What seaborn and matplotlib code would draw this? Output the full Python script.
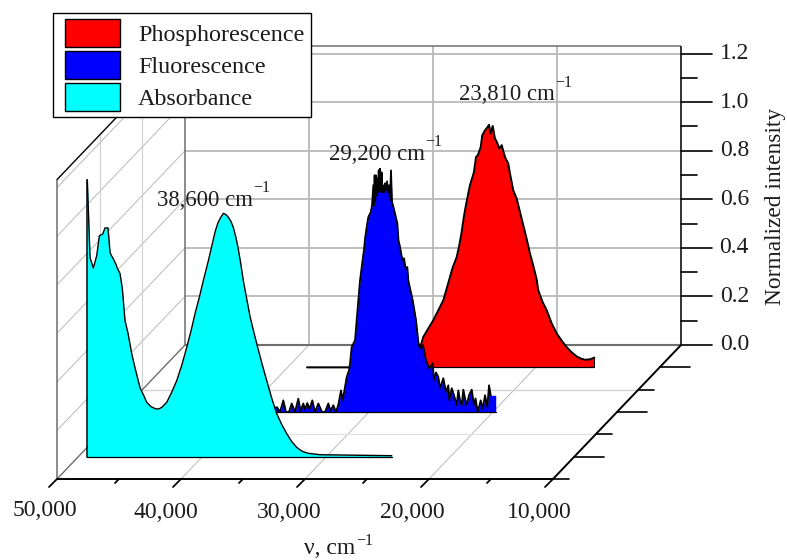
import matplotlib
matplotlib.use("Agg")
import matplotlib.pyplot as plt
import matplotlib.patches as mpatches
from matplotlib.legend_handler import HandlerPatch
import numpy as np
import seaborn as sns

# spectra (cm-1, normalized intensity)
ABS_WN = [49275, 49161, 49056, 48790, 48516, 48306, 48032, 47847, 47605, 47443, 47300, 47177, 46950, 46855, 46637,
          46451, 46234, 46000, 45693, 45400, 45024, 44800, 44484, 44137, 43900, 43677, 43450, 43250, 42871, 42500,
          42064, 41650, 41258, 40900, 40588, 40250, 39919, 39500, 39136, 38950, 38733, 38520, 38306, 38120, 37927,
          37700, 37499, 37300, 37120, 36900, 36693, 36420, 36152, 35880, 35612, 35200, 34806, 34400, 33999, 33600,
          33193, 32800, 32386, 31950, 31475, 30507, 24724]
ABS_I = [1.141, 0.972, 0.82, 0.777, 0.828, 0.91, 0.917, 0.942, 0.942, 0.841, 0.825, 0.815, 0.79, 0.776, 0.754,
         0.692, 0.56, 0.51, 0.424, 0.36, 0.284, 0.26, 0.224, 0.206, 0.2, 0.196, 0.198, 0.204, 0.224, 0.262,
         0.313, 0.378, 0.45, 0.52, 0.589, 0.655, 0.725, 0.81, 0.89, 0.93, 0.964, 0.985, 1.002, 0.998, 0.988,
         0.97, 0.944, 0.905, 0.861, 0.795, 0.725, 0.65, 0.577, 0.52, 0.465, 0.385, 0.313, 0.24, 0.177, 0.133,
         0.095, 0.063, 0.038, 0.022, 0.014, 0.008, 0.004]

FLUO_WN = [38400, 37419, 37177, 36911, 36693, 36451, 36233, 35967, 35701, 35524, 35297, 35161, 34975, 34798,
           34572, 34354, 34088, 33790, 33547, 33281, 33104, 32878, 32660, 32475, 32257, 32120, 31797, 31612,
           31531, 31394, 31128, 30927, 30725, 30378, 30321, 30185, 30055, 29862, 29757, 29650, 29602, 29546,
           29498, 29443, 29386, 29330, 29274, 29216, 29162, 29113, 29048, 28984, 28920, 28870, 28790, 28709,
           28629, 28548, 28468, 28387, 28306, 28226, 28145, 28063, 27902, 27717, 27620, 27499, 27378, 27281,
           27176, 27055, 26910, 26830, 26474, 26208, 26023, 25886, 25644, 25402, 25136, 24861, 24757, 24595,
           24410, 24273, 24007, 23789, 23603, 23523, 23329, 23144, 22926, 22797, 22660, 22523, 22393, 22256,
           22120, 21934, 21716, 21531, 21410, 21232, 20990, 20829, 20643, 20457, 20321, 20184, 19780]
FLUO_I = [0.0, 0.02, 0.0, 0.048, 0.0, 0.0, 0.035, 0.0, 0.055, 0.005, 0.035, 0.01, 0.037, 0.012,
          0.048, 0.0, 0.035, 0.0, 0.0, 0.035, 0.005, 0.028, 0.0, 0.03, 0.089, 0.048, 0.144, 0.172,
          0.199, 0.268, 0.295, 0.419, 0.542, 0.68, 0.714, 0.762, 0.803, 0.823, 0.851, 0.934, 0.851, 0.975,
          0.872, 0.975, 0.892, 0.963, 0.913, 0.996, 0.905, 1.002, 0.913, 0.987, 0.905, 0.934, 0.905, 0.942,
          0.913, 0.95, 0.905, 0.934, 0.872, 0.995, 0.865, 0.851, 0.817, 0.777, 0.707, 0.68, 0.645, 0.625,
          0.633, 0.592, 0.597, 0.542, 0.46, 0.378, 0.288, 0.262, 0.275, 0.213, 0.179, 0.201, 0.131, 0.163,
          0.144, 0.098, 0.139, 0.082, 0.11, 0.048, 0.098, 0.069, 0.028, 0.089, 0.048, 0.028, 0.092, 0.056,
          0.028, 0.069, 0.092, 0.028, 0.056, 0.0, 0.048, 0.014, 0.069, 0.021, 0.11, 0.069, 0.069]

PHOS_WN = [38443, 31346, 30136, 29491, 29063, 28660, 28257, 27850, 27450, 27200, 26966, 26700, 26370, 26170,
           25966, 25850, 25700, 25500, 25297, 24974, 24813, 24652, 24434, 24305, 24087, 23902, 23765, 23627,
           23466, 23281, 23144, 22934, 22740, 22474, 22208, 22071, 21805, 21531, 21264, 20998, 20730, 20458,
           20200, 19918, 19789, 19450, 19111, 18700, 18305, 17900, 17498, 17100, 16692, 16350, 16022, 15619, 15272]
PHOS_I = [0.0, 0.0, 0.01, 0.05, 0.125, 0.16, 0.194, 0.235, 0.276, 0.32, 0.362, 0.41, 0.454, 0.5,
          0.558, 0.6, 0.647, 0.7, 0.75, 0.805, 0.866, 0.875, 0.907, 0.956, 0.976, 0.988, 0.999, 0.963,
          0.994, 0.942, 0.93, 0.901, 0.915, 0.866, 0.839, 0.798, 0.729, 0.695, 0.64, 0.585, 0.53, 0.469,
          0.42, 0.362, 0.317, 0.27, 0.235, 0.18, 0.14, 0.11, 0.083, 0.062, 0.045, 0.036, 0.031, 0.033, 0.04]

WN_MAJOR = [50000, 40000, 30000, 20000, 10000]
WN_MINOR = [45000, 35000, 25000, 15000]
WN_LABELS = ["50,000", "40,000", "30,000", "20,000", "10,000"]
Z_MAJOR = [0.0, 0.2, 0.4, 0.6, 0.8, 1.0, 1.2]
Z_MINOR = [0.1, 0.3, 0.5, 0.7, 0.9, 1.1]
DEPTH_MAJOR = [1, 3, 5]
DEPTH_MINOR = [0, 2, 4]
DEPTH_GRID = [2, 4]
Z_TOP = 1.233
DEPTH_MAX = 6

ABS_DEPTH, FLUO_DEPTH, PHOS_DEPTH = 1, 3, 5
PEAK_LABELS = [("38,600 cm", 253, 200), ("29,200 cm", 425, 154), ("23,810 cm", 555, 95)]

GRID = "#b9b9b9"
EDGE = "#6e6e6e"
INK = "#1c1c1c"
FS = 17


def proj(wn, depth, z):
    # oblique projection onto figure pixels
    wn, z = np.asarray(wn, dtype=float), np.asarray(z, dtype=float)
    px = 57 + (50000 - wn) * 0.0124 + depth * 128 / 6
    py = 479 - depth * 134 / 6 - z * 242.8
    return px, py


def seg(ax, wn, depth, z, color=GRID, lw=1.0, zorder=1):
    px, py = proj(wn, depth, z)
    ax.plot(px, py, color=color, lw=lw, zorder=zorder, solid_capstyle="butt")


def depth_seg(ax, wn, z, color=GRID, lw=0.7, zorder=1):
    p0 = proj(wn, 0, z)
    p1 = proj(wn, DEPTH_MAX, z)
    ax.plot([p0[0], p1[0]], [p0[1], p1[1]], color=color, lw=lw, zorder=zorder)


def draw_walls(ax):
    # back wall
    for z in Z_MAJOR[1:]:
        seg(ax, [50000, 10000], DEPTH_MAX, [z, z], lw=1.3)
        depth_seg(ax, 50000, z)
    for wn in WN_MAJOR[1:4]:
        seg(ax, [wn, wn], DEPTH_MAX, [0, Z_TOP], lw=1.3)
        depth_seg(ax, wn, 0)
    # floor and left wall at the even depths
    for d, col in zip(DEPTH_GRID, ["#e2e2e2", "#cfcfcf"]):
        seg(ax, [50000, 10000], d, [0, 0], color=col, lw=0.9)
        seg(ax, [50000, 50000], d, [0, Z_TOP], color="#cfcfcf", lw=0.8)
    seg(ax, [50000, 10000], DEPTH_MAX, [Z_TOP, Z_TOP], color=EDGE, lw=1.1, zorder=2)
    seg(ax, [50000, 10000], DEPTH_MAX, [0, 0], color=EDGE, lw=1.5, zorder=2)
    seg(ax, [50000, 50000], DEPTH_MAX, [0, Z_TOP], color=EDGE, lw=1.1, zorder=2)
    seg(ax, [50000, 50000], 0, [0, Z_TOP], color=EDGE, lw=1.1, zorder=2)
    depth_seg(ax, 50000, 0, color=EDGE, lw=1.0, zorder=2)
    depth_seg(ax, 50000, Z_TOP, color="black", lw=1.0, zorder=2)


def draw_spectrum(ax, wn, inten, depth, color, zorder, lw=1.1, line_to=None, close_right=False):
    px, py = proj(wn, depth, inten)
    _, base = proj(wn[0], depth, 0)
    ax.fill_between(px, py, base, color=color, lw=0, zorder=zorder)
    ax.plot([px[0], px[-1]], [base, base], color="black", lw=0.9, zorder=zorder + 0.1)
    ax.plot([px[0], px[0]], [base, py[0]], color="black", lw=1.1, zorder=zorder + 0.1)
    if close_right:
        ax.plot([px[-1], px[-1]], [base, py[-1]], color="black", lw=0.7, zorder=zorder + 0.1)
    sns.lineplot(x=px[:line_to], y=py[:line_to], color="black", lw=lw, sort=False, estimator=None,
                 legend=False, ax=ax, zorder=zorder + 0.2)


def draw_axes(ax):
    seg(ax, [50000, 10000], 0, [0, 0], color="black", lw=1.4, zorder=3)
    depth_seg(ax, 10000, 0, color="black", lw=1.4, zorder=3)
    seg(ax, [10000, 10000], DEPTH_MAX, [0, Z_TOP], color="#333333", lw=1.4, zorder=3)

    label_dx = [-12.5, -15.5, -15.5, -17, -14]
    label_dy = [32, 33, 33, 33, 34]
    for wn, lab, dx, dy in zip(WN_MAJOR, WN_LABELS, label_dx, label_dy):
        px, py = proj(wn, 0, 0)
        ax.plot([px, px - 8], [py, py + 8], color="black", lw=1.3, zorder=3)
        ax.text(px + dx, py + dy, lab, ha="center", va="center", fontsize=FS, color=INK)
    for wn in WN_MINOR:
        px, py = proj(wn, 0, 0)
        ax.plot([px, px - 4], [py, py + 4], color="black", lw=1.3, zorder=3)

    for d in DEPTH_MAJOR:
        px, py = proj(10000, d, 0)
        ax.plot([px, px + 30], [py, py], color="black", lw=1.2, zorder=3)
    for d in DEPTH_MINOR:
        px, py = proj(10000, d, 0)
        ax.plot([px, px + 16], [py, py], color="black", lw=1.2, zorder=3)

    for z in Z_MAJOR:
        px, py = proj(10000, DEPTH_MAX, z)
        ax.plot([px, px + 31], [py, py], color="black", lw=1.2, zorder=3)
        ax.text(px + 68, py, f"{z:.1f}", ha="right", va="center", fontsize=FS, color=INK)
    for z in Z_MINOR:
        px, py = proj(10000, DEPTH_MAX, z)
        ax.plot([px, px + 16], [py, py], color="black", lw=1.2, zorder=3)


def swatch(legend, orig_handle, xdescent, ydescent, width, height, fontsize):
    # swatches sit a little in from the frame
    return mpatches.Rectangle((4 - xdescent, -ydescent), width - 4, height)


def main():
    sns.set_theme(style="white")
    plt.rcParams["font.family"] = ["Liberation Serif", "DejaVu Serif"]

    fig = plt.figure(figsize=(7.87, 5.60), dpi=100)
    ax = fig.add_axes([0, 0, 1, 1])
    ax.set_xlim(0, 787)
    ax.set_ylim(560, 0)
    ax.axis("off")

    draw_walls(ax)
    draw_spectrum(ax, PHOS_WN, PHOS_I, PHOS_DEPTH, "#ff0000", 4, lw=1.4, close_right=True)
    draw_spectrum(ax, FLUO_WN, FLUO_I, FLUO_DEPTH, "#0000ff", 5, lw=1.3, line_to=-1)
    draw_spectrum(ax, ABS_WN, ABS_I, ABS_DEPTH, "#00ffff", 6, lw=1.0)
    draw_axes(ax)

    for text, right, yc in PEAK_LABELS:
        ax.text(right, yc, text, ha="right", va="center", fontsize=16.4, color=INK, zorder=8)
        ax.text(right, yc - 12, "\u22121", ha="left", va="center", fontsize=11.5, color=INK, zorder=8)

    ax.text(355, 549, "\u03bd, cm", ha="right", va="center", fontsize=FS, color=INK)
    ax.text(356, 541, "\u22121", ha="left", va="center", fontsize=11.5, color=INK)
    ax.text(775, 206, "Normalized intensity", rotation=90, ha="center", va="center", fontsize=16.8, color=INK)

    handles = [mpatches.Patch(facecolor=c, edgecolor="black", lw=1.0, label=l)
               for c, l in [("#ff0000", "Phosphorescence"), ("#0000ff", "Fluorescence"), ("#00ffff", "Absorbance")]]
    leg = ax.legend(handles=handles, loc="upper left", bbox_to_anchor=(53 / 787, 1 - 13 / 560),
                    bbox_transform=fig.transFigure, borderaxespad=0, fancybox=False, framealpha=1,
                    edgecolor="black", fontsize=17.4, handlelength=2.52, handleheight=1.37,
                    labelspacing=0.19, handletextpad=0.74, borderpad=0.26,
                    handler_map={mpatches.Patch: HandlerPatch(patch_func=swatch)})
    leg.get_frame().set_linewidth(1.0)
    leg.set_zorder(10)
    for t in leg.get_texts():
        t.set_color(INK)

    fig.savefig("out.png", dpi=100)
    plt.close(fig)


if __name__ == "__main__":
    main()
